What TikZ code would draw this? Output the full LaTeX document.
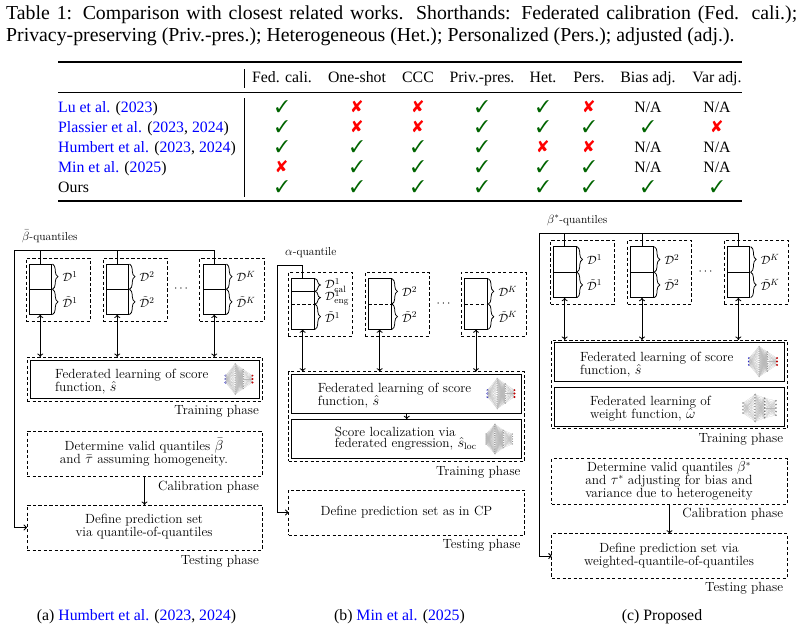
\documentclass[tikz,border=0pt]{standalone}
\usepackage{amsmath}
\usepackage{pifont}
\usepackage{fontspec}
\newfontfamily\tms{Liberation Serif}
\usetikzlibrary{arrows.meta,decorations.pathreplacing,calc}
\definecolor{okgreen}{RGB}{0,100,0}
\newcommand{\Yy}{\textcolor{okgreen}{\fontsize{17}{17}\selectfont\ding{51}}}
\newcommand{\Nn}{\textcolor{red}{\fontsize{17}{17}\selectfont\ding{56}}}
\newcommand{\NA}{N/A}
\newcommand{\bl}[1]{\textcolor{blue}{#1}}
\newcommand{\bx}[6]{\node[#6,minimum width={#4-#2},minimum height={#5-#3}] (#1) at ({(#2+#4)/2},{(#3+#5)/2}) {};}
% x, y centre, width : layers frac/count/colour/spacing/radius
\newcommand{\nnet}[4]{%
  \begin{scope}[shift={(#1,#2)}]
  \foreach \lx/\ln/\lc/\ls/\lr [remember=\lx as \px (initially -1),remember=\ln as \pn (initially 0),remember=\ls as \ps (initially 0)] in {#4}{%
    \ifnum\pn>0
      \foreach \i in {1,...,\pn}{\foreach \j in {1,...,\ln}{%
        \draw[black!28,line width=0.06pt] ({\px*#3},{(\i-(\pn+1)/2)*\ps}) -- ({\lx*#3},{(\j-(\ln+1)/2)*\ls});}}
    \fi
    \foreach \j in {1,...,\ln}{\fill[\lc] ({\lx*#3},{(\j-(\ln+1)/2)*\ls}) circle (\lr pt);}
  }
  \end{scope}}
\newcommand{\nnA}[3]{\nnet{#1}{#2}{#3}{0/3/blue!80!black/3.4/1.1,0.36/14/gray!90/2.35/0.5,0.66/9/gray/2.4/0.55,1/3/red!75!black/3.4/1.1}}
\tikzset{
  dashbox/.style={draw,dash pattern=on 3.2pt off 2.3pt,line width=0.85pt,inner sep=0pt,outer sep=0pt},
  solidbox/.style={draw,line width=0.9pt,inner sep=0pt,outer sep=0pt},
  databox/.style={draw,line width=0.9pt,inner sep=0pt,outer sep=0pt},
  conn/.style={line width=0.85pt},
  tipboth/.style={conn,{Computer Modern Rightarrow[length=3.5pt,width=6pt]}-{Computer Modern Rightarrow[length=3.5pt,width=6pt]}},
  tipone/.style={conn,-{Computer Modern Rightarrow[length=3.5pt,width=6pt]}},
  outerln/.style={line width=1pt},
  dgm/.style={inner sep=0pt,font=\fontsize{13.3}{13}\selectfont},
  phase/.style={dgm,anchor=base east},
  qnt/.style={inner sep=0pt,anchor=base west,font=\fontsize{11.6}{11.6}\selectfont},
  dlab/.style={inner sep=0pt,anchor=west,font=\fontsize{13}{13}\selectfont},
  brc/.style={decorate,decoration={brace,amplitude=5.5pt},line width=0.75pt},
  cell/.style={inner sep=0pt,anchor=base,font=\tms\fontsize{15.8}{15.8}\selectfont},
  rowlab/.style={inner sep=0pt,anchor=base west,font=\tms\fontsize{15.8}{15.8}\selectfont},
  capt/.style={inner sep=0pt,anchor=base,font=\tms\fontsize{15.8}{15.8}\selectfont},
  rule/.style={line width=1.2pt},
  midrule/.style={line width=0.8pt},
  vbar/.style={line width=0.8pt}
}
\begin{document}
\begin{tikzpicture}[x=1pt,y=-1pt]
\path[use as bounding box] (0,0) rectangle (803,630);
% caption
\node[inner sep=0pt,anchor=north west,text width=791pt,align=justify,font=\tms\fontsize{19.8}{21.5}\selectfont] (cap) at (6,6)
 {Table 1: Comparison with closest related works. Shorthands: Federated calibration (Fed. cali.);\linebreak Privacy-preserving (Priv.-pres.); Heterogeneous (Het.); Personalized (Pers.); adjusted (adj.).};
% table rules
\coordinate (tl1) at (58,62); \coordinate (tr1) at (742,62);
\coordinate (tl2) at (58,92); \coordinate (tr2) at (742,92);
\coordinate (tl3) at (58,201); \coordinate (tr3) at (742,201);
\draw[rule] (tl1) -- (tr1);
\draw[midrule] (tl2) -- (tr2);
\draw[rule] (tl3) -- (tr3);
\coordinate (v1) at (244,69); \coordinate (v2) at (244,88); \coordinate (v3) at (244,98); \coordinate (v4) at (244,197);
\draw[vbar] (v1) -- (v2);
\draw[vbar] (v3) -- (v4);
% header
\foreach \cx/\t in {282/{Fed. cali.},357/{One-shot},418/{CCC},482/{Priv.-pres.},543/{Het.},589/{Pers.},648/{Bias adj.},717/{Var adj.}}
  \node[cell] (h\cx) at (\cx,82) {\t};
\node[rowlab] (l1) at (58,112) {\bl{Lu et al.} (\bl{2023})};
\node[rowlab] (l2) at (58,132) {\bl{Plassier et al.} (\bl{2023}, \bl{2024})};
\node[rowlab] (l3) at (58,152) {\bl{Humbert et al.} (\bl{2023}, \bl{2024})};
\node[rowlab] (l4) at (58,172) {\bl{Min et al.} (\bl{2025})};
\node[rowlab] (l5) at (58,192) {Ours};
\foreach \cx/\s in {282/\Yy,357/\Nn,418/\Nn,482/\Yy,543/\Yy,589/\Nn,648/\NA,717/\NA} \node[cell] (ra\cx) at (\cx,112) {\s};
\foreach \cx/\s in {282/\Yy,357/\Nn,418/\Nn,482/\Yy,543/\Yy,589/\Yy,648/\Yy,717/\Nn} \node[cell] (rb\cx) at (\cx,132) {\s};
\foreach \cx/\s in {282/\Yy,357/\Yy,418/\Yy,482/\Yy,543/\Nn,589/\Nn,648/\NA,717/\NA} \node[cell] (rc\cx) at (\cx,152) {\s};
\foreach \cx/\s in {282/\Nn,357/\Yy,418/\Yy,482/\Yy,543/\Yy,589/\Yy,648/\NA,717/\NA} \node[cell] (rd\cx) at (\cx,172) {\s};
\foreach \cx/\s in {282/\Yy,357/\Yy,418/\Yy,482/\Yy,543/\Yy,589/\Yy,648/\Yy,717/\Yy} \node[cell] (re\cx) at (\cx,192) {\s};

%%%%%% PANEL A
\node[qnt] (aq) at (22,240) {$\bar{\beta}$-quantiles};
\bx{aD1}{26}{258}{90}{321}{dashbox}
\bx{aD2}{103}{258}{167}{321}{dashbox}
\bx{aD3}{199.5}{258}{264}{321}{dashbox}
\bx{a1}{29}{264}{51.5}{314.5}{databox}
\bx{a2}{106}{264}{128.5}{314.5}{databox}
\bx{a3}{203}{264}{225.5}{314.5}{databox}
\foreach \b/\n/\k in {a1/aDa/1,a2/aDb/2,a3/aDc/K}{
  \draw[databox] (\b.west) -- (\b.east);
  \draw[brc] ([xshift=1pt]\b.north east) -- ([xshift=1pt]\b.east);
  \draw[brc] ([xshift=1pt]\b.east) -- ([xshift=1pt]\b.south east);
  \node[dlab] (\n u) at ($(\b.east)+(11,-12.6)$) {$\mathcal{D}^{\k}$};
  \node[dlab] (\n l) at ($(\b.east)+(11,12.6)$) {$\tilde{\mathcal{D}}^{\k}$};
}
\node[inner sep=0pt,font=\fontsize{12}{12}\selectfont] (adots) at (182,289) {$\cdots$};
\bx{aF}{27}{357}{262}{401}{dashbox}
\bx{aFi}{30}{360}{259}{398}{solidbox}
\node[dgm,anchor=west,align=left] (aFt) at (55,381.5) {Federated learning of score\\function, $\hat{s}$};
\nnA{225.5}{379}{27}
\foreach \b in {a1,a2,a3} \draw[tipboth] (\b.south) -- (\b.south |- aF.north);
\node[phase] (aP1) at (259,414) {Training phase};
\bx{aC}{27}{431}{262}{476}{dashbox}
\node[dgm,align=center] (aCt) at (144,452.5) {Determine valid quantiles $\bar{\beta}$\\and $\bar{\tau}$ assuming homogeneity.};
\bx{aT}{27}{505}{262}{550}{dashbox}
\node[dgm,align=center] (aTt) at (144,527) {Define prediction set\\via quantile-of-quantiles};
\node[phase] (aP2) at (259,490) {Calibration phase};
\node[phase] (aP3) at (259,564) {Testing phase};
\draw[tipone] (aC.south) -- (aT.north);
\coordinate (aTop) at (14,250.7);
\draw[tipone,line width=1pt] (a3.north) |- (aTop) |- (aT.west);
\draw[outerln] (a1.north) -- (a1.north |- aTop);
\draw[outerln] (a2.north) -- (a2.north |- aTop);
\node[capt] (aCap) at (136.5,620) {(a) \bl{Humbert et al.} (\bl{2023}, \bl{2024})};

%%%%%% PANEL B
\node[qnt] (bq) at (285,255) {$\alpha$-quantile};
\bx{bD1}{288}{272.3}{352.3}{336}{dashbox}
\bx{bD2}{365}{272.3}{429}{336}{dashbox}
\bx{bD3}{461}{272.3}{526}{336}{dashbox}
\bx{b1}{291.3}{278.7}{314}{329.3}{databox}
\bx{b2}{368.3}{278.7}{391}{329.3}{databox}
\bx{b3}{464.7}{278.7}{487.3}{329.3}{databox}
\draw[databox] ([yshift=-12.6pt]b1.north west) -- ([yshift=-12.6pt]b1.north east);
\draw[conn,dash pattern=on 3.2pt off 2.3pt] (b1.west) -- (b1.east);
\draw[brc] ([xshift=1pt]b1.north east) -- ([xshift=1pt,yshift=-12.6pt]b1.north east);
\draw[brc] ([xshift=1pt,yshift=-12.6pt]b1.north east) -- ([xshift=1pt]b1.east);
\draw[brc] ([xshift=1pt]b1.east) -- ([xshift=1pt]b1.south east);
\node[dlab] (bc1) at (325,285.5) {$\mathcal{D}^{1}_{\text{cal}}$};
\node[dlab] (bc2) at (325,298) {$\mathcal{D}^{1}_{\text{eng}}$};
\node[dlab] (bc3) at (325,317) {$\tilde{\mathcal{D}}^{1}$};
\foreach \b/\n/\k in {b2/bDb/2,b3/bDc/K}{
  \draw[conn,dash pattern=on 3.2pt off 2.3pt] (\b.west) -- (\b.east);
  \draw[brc] ([xshift=1pt]\b.north east) -- ([xshift=1pt]\b.east);
  \draw[brc] ([xshift=1pt]\b.east) -- ([xshift=1pt]\b.south east);
  \node[dlab] (\n u) at ($(\b.east)+(11,-12.6)$) {$\mathcal{D}^{\k}$};
  \node[dlab] (\n l) at ($(\b.east)+(11,12.6)$) {$\tilde{\mathcal{D}}^{\k}$};
}
\node[inner sep=0pt,font=\fontsize{12}{12}\selectfont] (bdots) at (444.5,304) {$\cdots$};
\bx{bF}{288.5}{371.7}{524.5}{461}{dashbox}
\bx{bFi}{291.7}{374.3}{521.7}{413}{solidbox}
\bx{bGi}{291.7}{419.3}{521.7}{458}{solidbox}
\node[dgm,anchor=west,align=left] (bFt) at (317.7,395.5) {Federated learning of score\\function, $\hat{s}$};
\node[dgm,anchor=west,align=left,font=\fontsize{13.3}{10.2}\selectfont] (bGt) at (334.6,438.5) {Score localization via\\federated engression, $\hat{s}_{\text{loc}}$};
\nnA{487.5}{393.5}{27}
\nnet{486}{439}{28}{0/6/gray!90/2/0.55,0.32/14/black!65/2.3/0.5,0.62/8/black!60/2.5/0.55,0.95/5/gray!90/2.5/0.55}
\foreach \b in {b1,b2,b3} \draw[tipboth] (\b.south) -- (\b.south |- bF.north);
\draw[tipone] (bFi.south) -- (bGi.north);
\node[phase] (bP1) at (520.7,475) {Training phase};
\bx{bT}{288.5}{490}{524.5}{535}{dashbox}
\node[dgm] (bTt) at (406.5,512) {Define prediction set as in CP};
\node[phase] (bP3) at (520.7,548) {Testing phase};
\coordinate (bTop) at (277,265);
\draw[tipone,line width=1pt] (b1.north) |- (bTop) |- (bT.west);
\node[capt] (bCap) at (399.5,620.5) {(b) \bl{Min et al.} (\bl{2025})};

%%%%%% PANEL C
\node[qnt] (cq) at (547,223) {$\beta^{*}$-quantiles};
\bx{cD1}{550.7}{240.3}{614.3}{304}{dashbox}
\bx{cD2}{627.7}{240.3}{691.7}{304}{dashbox}
\bx{cD3}{724}{240.3}{788.3}{304}{dashbox}
\bx{c1}{553.3}{246.7}{576}{297.7}{databox}
\bx{c2}{630.7}{246.7}{653.3}{297.7}{databox}
\bx{c3}{727}{246.7}{749.7}{297.7}{databox}
\foreach \b/\n/\k in {c1/cDa/1,c2/cDb/2,c3/cDc/K}{
  \draw[databox] (\b.west) -- (\b.east);
  \draw[brc] ([xshift=1pt]\b.north east) -- ([xshift=1pt]\b.east);
  \draw[brc] ([xshift=1pt]\b.east) -- ([xshift=1pt]\b.south east);
  \node[dlab] (\n u) at ($(\b.east)+(11,-12.6)$) {$\mathcal{D}^{\k}$};
  \node[dlab] (\n l) at ($(\b.east)+(11,12.6)$) {$\tilde{\mathcal{D}}^{\k}$};
}
\node[inner sep=0pt,font=\fontsize{12}{12}\selectfont] (cdots) at (706.5,272) {$\cdots$};
\bx{cF}{551.7}{340}{787.3}{428.7}{dashbox}
\bx{cFi}{554.7}{342.7}{784}{381.3}{solidbox}
\bx{cGi}{554.7}{387.3}{784}{426}{solidbox}
\node[dgm,anchor=west,align=left] (cFt) at (580,364.5) {Federated learning of score\\function, $\hat{s}$};
\node[dgm,anchor=west,align=left] (cGt) at (590,409) {Federated learning of\\weight function, $\hat{\omega}$};
\nnA{749}{361.5}{28}
\nnet{743}{408}{33}{0/4/gray!90/3.4/0.9,0.37/10/black!60/3/0.8,0.66/7/black!60/3.3/0.8,1/5/gray!90/3.6/0.9}
\foreach \b in {c1,c2,c3} \draw[tipboth] (\b.south) -- (\b.south |- cF.north);
\node[phase] (cP1) at (783.3,442.7) {Training phase};
\bx{cC}{551.7}{458.7}{787.3}{504}{dashbox}
\node[dgm,align=center] (cCt) at (669,481) {Determine valid quantiles $\beta^{*}$\\and $\tau^{*}$ adjusting for bias and\\variance due to heterogeneity};
\bx{cT}{551.7}{533.7}{787.3}{578.3}{dashbox}
\node[dgm,align=center] (cTt) at (669,555.5) {Define prediction set via\\weighted-quantile-of-quantiles};
\node[phase] (cP2) at (783.3,517.7) {Calibration phase};
\node[phase] (cP3) at (783.3,591) {Testing phase};
\draw[tipone] (cC.south) -- (cT.north);
\coordinate (cTop) at (539.3,233.7);
\draw[tipone,line width=1pt] (c3.north) |- (cTop) |- (cT.west);
\draw[outerln] (c1.north) -- (c1.north |- cTop);
\draw[outerln] (c2.north) -- (c2.north |- cTop);
\node[capt] (cCap) at (662,620) {(c) Proposed};
\end{tikzpicture}
\end{document}
